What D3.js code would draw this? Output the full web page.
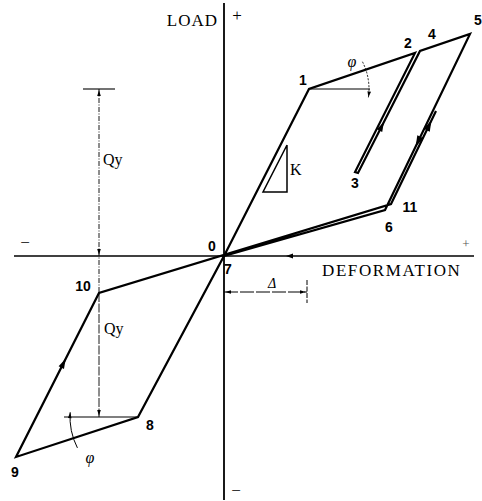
<!DOCTYPE html>
<html>
<head>
<meta charset="utf-8">
<script src="https://cdn.jsdelivr.net/npm/d3@7"></script>
<style>
  html, body { margin: 0; padding: 0; background: #fff; }
  svg { display: block; }
  .serif { font-family: "Liberation Serif", "DejaVu Serif", serif; }
  .num { font-family: "Liberation Sans", "DejaVu Sans", sans-serif; font-weight: bold; }
</style>
</head>
<body>
<script>
// Bilinear hysteresis loop: vertex sequence 0 → 1 → 2 → 3 → 4 → 5 → 6 → 7 → 8 → 9 → 10 → 11
const vertexNames       = ["0", "1", "2", "3", "3r", "4", "5", "6", "7", "8", "9", "10", "11", "11e"];
const vertexDeformation = [0, 8.5, 19.1, 13.1, 13.4, 19.6, 24.6, 16.1, 0, -8.6, -20.8, -12.5, 16.7, 21.2];
const vertexLoad        = [0, 16.7, 20.3, 8.4, 8.3, 20.5, 22.2, 4.6, 0, -16.1, -20.1, -3.7, 5.2, 14.5];

// Numbered labels shown next to vertices
const labelTexts = ["0", "1", "2", "3", "4", "5", "6", "7", "8", "9", "10", "11"];
const labelVertex = ["0", "1", "2", "3", "4", "5", "6", "7", "8", "9", "10", "11"];

// Axis extents (deformation, load)
const deformationExtent = [-21.0, 25.0];
const loadExtent = [-24.4, 25.3];

// Initial stiffness triangle (deformation, load)
const kTriangleDeformation = [6.3, 3.9, 6.3, 6.3];
const kTriangleLoad = [11.1, 6.4, 6.4, 11.1];

const W = 482, H = 501;
const x = d3.scaleLinear().domain([-22.4, 25.8]).range([0, W]);
const y = d3.scaleLinear().domain([25.6, -24.5]).range([0, H]);

const pts = vertexNames.map((n, i) => ({ name: n, d: vertexDeformation[i], q: vertexLoad[i] }));
const byName = Object.fromEntries(pts.map(p => [p.name, p]));
const P = n => [x(byName[n].d), y(byName[n].q)];

const svg = d3.select("body").append("svg").attr("width", W).attr("height", H);

function arrowHead(px, py, angle, len = 8, half = 2.6) {
  const a = angle * Math.PI / 180;
  const ux = Math.cos(a), uy = Math.sin(a);
  const bx = px - ux * len, by = py - uy * len;
  svg.append("path")
    .attr("d", `M${px},${py}L${bx - uy * half},${by + ux * half}L${bx + uy * half},${by - ux * half}Z`)
    .attr("fill", "#000");
}
const deg = (a, b) => Math.atan2(b[1] - a[1], b[0] - a[0]) * 180 / Math.PI;

// Axes
svg.append("line")
  .attr("x1", x(0)).attr("x2", x(0))
  .attr("y1", y(loadExtent[1])).attr("y2", y(loadExtent[0]))
  .attr("stroke", "#000").attr("stroke-width", 1.8);
svg.append("line")
  .attr("x1", x(deformationExtent[0])).attr("x2", x(deformationExtent[1]))
  .attr("y1", y(0)).attr("y2", y(0))
  .attr("stroke", "#000").attr("stroke-width", 1.6);
arrowHead(x(6.2), y(0), 180, 7, 2.4);

// Axis titles and signs
svg.append("text").attr("class", "serif").attr("x", 218).attr("y", 26)
  .attr("text-anchor", "end").attr("font-size", 17).attr("letter-spacing", 1).text("LOAD");
svg.append("text").attr("class", "serif").attr("x", 322).attr("y", 276)
  .attr("font-size", 17).attr("letter-spacing", 1.6).text("DEFORMATION");
svg.append("text").attr("class", "serif").attr("x", 237).attr("y", 21)
  .attr("text-anchor", "middle").attr("font-size", 17).text("+");
svg.append("text").attr("class", "serif").attr("x", 466).attr("y", 248)
  .attr("text-anchor", "middle").attr("font-size", 13).attr("fill", "#555").text("+");
svg.append("text").attr("class", "serif").attr("x", 25).attr("y", 248)
  .attr("text-anchor", "middle").attr("font-size", 17).text("−");
svg.append("text").attr("class", "serif").attr("x", 236).attr("y", 496)
  .attr("text-anchor", "middle").attr("font-size", 17).text("−");

// Hysteresis path
const line = d3.line().x(d => x(d.d)).y(d => y(d.q));
const seq = (names) => names.map(n => byName[n]);
svg.append("path")
  .attr("d", line(seq(["0", "1", "2", "3", "3r", "4", "5", "6", "7", "8", "9", "10", "11", "11e"])))
  .attr("fill", "none").attr("stroke", "#000")
  .attr("stroke-width", 2.2).attr("stroke-linejoin", "miter");

// Direction arrows along the loop
function segArrow(from, to, t, len, half) {
  const a = P(from), b = P(to);
  arrowHead(a[0] + (b[0] - a[0]) * t, a[1] + (b[1] - a[1]) * t, deg(a, b), len, half);
}
segArrow("3r", "4", 0.42, 10, 3);
segArrow("5", "6", 0.64, 11, 3.4);
segArrow("11", "11e", 0.9, 11, 3.4);
segArrow("9", "10", 0.6, 10, 3);

// Stiffness triangle K
svg.append("path")
  .attr("d", line(kTriangleDeformation.map((d, i) => ({ d, q: kTriangleLoad[i] }))))
  .attr("fill", "none").attr("stroke", "#000").attr("stroke-width", 1.5);
svg.append("text").attr("class", "serif")
  .attr("x", x(kTriangleDeformation[0]) + 3).attr("y", y(kTriangleLoad[0]) + 30)
  .attr("font-size", 16).text("K");

// Post-yield angle φ at vertex 1
{
  const c = P("1");
  svg.append("line").attr("x1", c[0]).attr("x2", x(14.6)).attr("y1", c[1]).attr("y2", c[1])
    .attr("stroke", "#000").attr("stroke-width", 1.1);
  const r = 60, a0 = -27 * Math.PI / 180, a1 = 8 * Math.PI / 180;
  const p = d3.path(); p.arc(c[0], c[1], r, a0, a1, false);
  svg.append("path").attr("d", p.toString()).attr("fill", "none").attr("stroke", "#000")
    .attr("stroke-width", 0.9).attr("stroke-dasharray", "2,1.5");
  arrowHead(c[0] + r * Math.cos(a1), c[1] + r * Math.sin(a1), 98, 6, 1.8);
  svg.append("text").attr("class", "serif").attr("x", 352).attr("y", 67)
    .attr("text-anchor", "middle").attr("font-style", "italic").attr("font-size", 16).text("φ");
}

// Post-yield angle φ at vertex 8
{
  const c = P("8");
  svg.append("line").attr("x1", c[0]).attr("x2", x(-16.0)).attr("y1", c[1]).attr("y2", c[1])
    .attr("stroke", "#000").attr("stroke-width", 1.1);
  const r = 68, a0 = 153 * Math.PI / 180, a1 = 184 * Math.PI / 180;
  const p = d3.path(); p.arc(c[0], c[1], r, a0, a1, false);
  svg.append("path").attr("d", p.toString()).attr("fill", "none").attr("stroke", "#000")
    .attr("stroke-width", 1);
  arrowHead(c[0] + r * Math.cos(a1), c[1] + r * Math.sin(a1), 274, 6, 1.8);
  svg.append("text").attr("class", "serif").attr("x", 90).attr("y", 463)
    .attr("text-anchor", "middle").attr("font-style", "italic").attr("font-size", 16).text("φ");
}

// Yield load Qy dimension lines
{
  const qx = x(byName["10"].d);
  const topQ = byName["1"].q;
  svg.append("line").attr("x1", x(-14.1)).attr("x2", x(-10.9)).attr("y1", y(topQ)).attr("y2", y(topQ))
    .attr("stroke", "#000").attr("stroke-width", 1.1);
  svg.append("line").attr("x1", qx).attr("x2", qx).attr("y1", y(topQ)).attr("y2", y(byName["10"].q))
    .attr("stroke", "#000").attr("stroke-width", 0.9).attr("stroke-dasharray", "5,1.5,1,1.5");
  svg.append("line").attr("x1", qx).attr("x2", qx).attr("y1", y(byName["10"].q)).attr("y2", y(byName["8"].q))
    .attr("stroke", "#000").attr("stroke-width", 0.9).attr("stroke-dasharray", "9,1.5");
  arrowHead(qx, y(topQ) + 1, -90, 6, 1.8);
  arrowHead(qx, y(0) - 1, 90, 6, 1.8);
  arrowHead(qx, y(byName["8"].q) - 1, 90, 6, 1.8);
  svg.append("text").attr("class", "serif").attr("x", qx + 4).attr("y", y(topQ) + 76)
    .attr("font-size", 16).text("Qy");
  svg.append("text").attr("class", "serif").attr("x", qx + 5).attr("y", y(byName["10"].q) + 41)
    .attr("font-size", 16).text("Qy");
}

// Yield deformation Δ dimension
{
  const dy = y(-3.6);
  const dEnd = x(8.3);
  svg.append("line").attr("x1", x(0)).attr("x2", dEnd).attr("y1", dy).attr("y2", dy)
    .attr("stroke", "#000").attr("stroke-width", 1).attr("stroke-dasharray", "14,2");
  svg.append("line").attr("x1", dEnd).attr("x2", dEnd).attr("y1", y(-2.4)).attr("y2", y(-4.7))
    .attr("stroke", "#000").attr("stroke-width", 1).attr("stroke-dasharray", "5,1.5");
  arrowHead(x(0) + 1, dy, 180, 6, 1.8);
  arrowHead(dEnd - 1, dy, 0, 6, 1.8);
  svg.append("text").attr("class", "serif").attr("x", 272).attr("y", 288)
    .attr("text-anchor", "middle").attr("font-style", "italic").attr("font-size", 14).text("Δ");
}

// Vertex numbers
const labelOffsets = {
  "0": [-12, -10], "1": [-6, -9], "2": [-7, -10], "3": [0, 11], "4": [12, -17], "5": [8, -14],
  "6": [4, 17], "7": [4, 13], "8": [12, 8], "9": [-1, 15], "10": [-16, -7], "11": [19, 3]
};
svg.append("g").selectAll("text").data(labelTexts).join("text")
  .attr("class", "num")
  .attr("x", (t, i) => P(labelVertex[i])[0] + labelOffsets[t][0])
  .attr("y", (t, i) => P(labelVertex[i])[1] + labelOffsets[t][1])
  .attr("text-anchor", "middle").attr("dominant-baseline", "central")
  .attr("font-size", 14).text(t => t);
</script>
</body>
</html>
